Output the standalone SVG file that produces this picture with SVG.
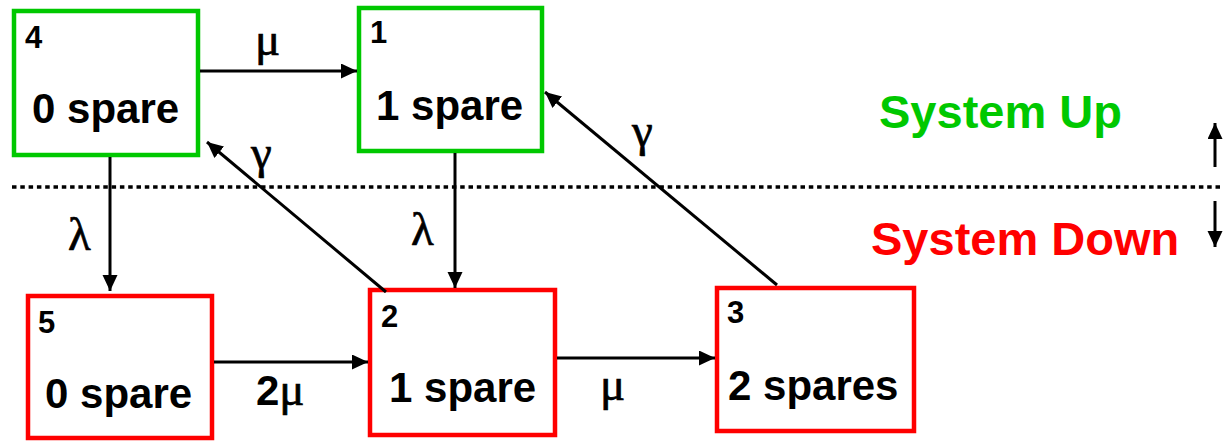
<svg xmlns="http://www.w3.org/2000/svg" width="1223" height="441" viewBox="0 0 1223 441">
<style>
.up{fill:#fff;stroke:#00c800;stroke-width:4.5}
.dn{fill:#fff;stroke:#ff0000;stroke-width:4.5}
.num{font-family:"Liberation Sans",Arial,sans-serif;font-weight:bold;font-size:31px;fill:#000}
.lbl{font-family:"Liberation Sans",Arial,sans-serif;font-weight:bold;font-size:42px;fill:#000}
.gr{font-family:"Liberation Serif","Times New Roman",serif;font-size:47px;fill:#000;stroke:#000;stroke-width:0.7}
.edge{stroke:#000;stroke-width:3;fill:none;marker-end:url(#ah)}
.big{font-family:"Liberation Sans",Arial,sans-serif;font-weight:bold;font-size:47px}
</style>
<defs>
<marker id="ah" markerUnits="userSpaceOnUse" markerWidth="18" markerHeight="16" refX="16" refY="7.5" orient="auto">
<path d="M0,0 L16,7.5 L0,15 Z" fill="#000"/>
</marker>
</defs>
<line x1="12" y1="187" x2="1223" y2="187" stroke="#000" stroke-width="3.5" stroke-dasharray="4.5 3.8"/>
<g id="node4">
<rect class="up" x="14" y="11" width="184" height="144"/>
<text class="num" x="25" y="48">4</text>
<text class="lbl" x="32" y="123">0 spare</text>
</g>
<g id="node1">
<rect class="up" x="359" y="8" width="183" height="143"/>
<text class="num" x="370" y="43">1</text>
<text class="lbl" x="376" y="120">1 spare</text>
</g>
<g id="node5">
<rect class="dn" x="28" y="296" width="184" height="142"/>
<text class="num" x="38" y="333">5</text>
<text class="lbl" x="45" y="408">0 spare</text>
</g>
<g id="node2">
<rect class="dn" x="370" y="290" width="185" height="145"/>
<text class="num" x="381" y="327">2</text>
<text class="lbl" x="389" y="402">1 spare</text>
</g>
<g id="node3">
<rect class="dn" x="717" y="288" width="197" height="143"/>
<text class="num" x="727" y="323">3</text>
<text class="lbl" x="728" y="400">2 spares</text>
</g>
<g id="connectors">
<line class="edge" x1="200" y1="71" x2="357" y2="71"/>
<line class="edge" x1="110" y1="157" x2="110" y2="291"/>
<line class="edge" x1="455" y1="153" x2="455" y2="288"/>
<line class="edge" x1="214" y1="362" x2="368" y2="362"/>
<line class="edge" x1="557" y1="358" x2="715" y2="358"/>
<line class="edge" x1="386" y1="292" x2="207" y2="142"/>
<line class="edge" x1="777" y1="285" x2="545" y2="92"/>
<line class="edge" x1="1215" y1="167" x2="1215" y2="123"/>
<line class="edge" x1="1215" y1="201" x2="1215" y2="247"/>
</g>
<g id="labels">
<text class="gr" x="255" y="55">μ</text>
<text class="gr" x="68" y="250">λ</text>
<text class="gr" x="411" y="245">λ</text>
<text class="gr" x="251" y="168">γ</text>
<text class="gr" x="632" y="146">γ</text>
<text x="256" y="405"><tspan class="lbl">2</tspan><tspan class="gr">μ</tspan></text>
<text class="gr" x="600" y="400">μ</text>
<text class="big" x="879" y="128" fill="#00c800">System Up</text>
<text class="big" x="871" y="255" fill="#ff0000">System Down</text>
</g>
</svg>
